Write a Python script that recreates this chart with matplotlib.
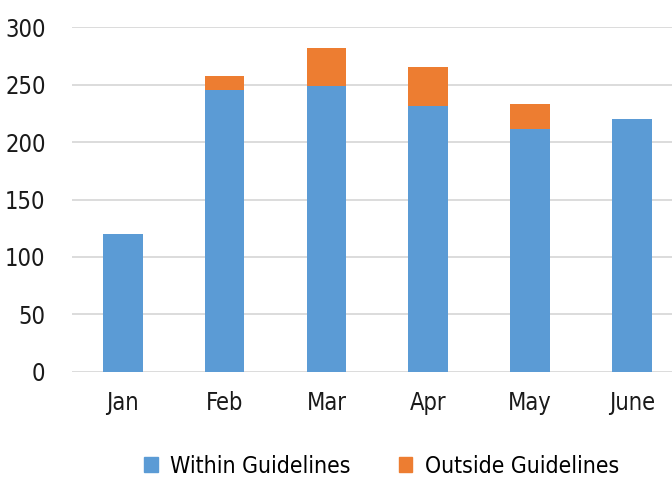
import matplotlib
matplotlib.use('Agg')
import matplotlib.pyplot as plt
from matplotlib.patches import Patch

months = ['Jan', 'Feb', 'Mar', 'Apr', 'May', 'June']
within = [120, 245, 249, 231, 211, 220]
outside = [0, 12, 33, 34, 22, 0]

plt.rcParams['font.family'] = ['DejaVu Sans']
plt.rcParams['font.stretch'] = 'condensed'

blue = '#5B9BD5'
orange = '#ED7D31'

fig = plt.figure(figsize=(6.72, 4.79), dpi=100)
ax = fig.add_axes([0.107, 0.2234, 0.909, 0.7202])

x = range(len(months))
ax.bar(x, within, width=0.39, color=blue, zorder=3)
ax.bar(x, outside, width=0.39, bottom=within, color=orange, zorder=3)

ax.set_xlim(-0.5, len(months) - 0.5)
ax.set_ylim(0, 300)
ax.set_yticks(range(0, 301, 50))
ax.set_xticks(list(x))
ax.set_xticklabels(months)
ax.grid(axis='y', color='#D9D9D9', linewidth=1.3, zorder=0)
for s in ax.spines.values():
    s.set_visible(False)
ax.tick_params(length=0, labelsize=17, colors='#1a1a1a')
ax.tick_params(axis='x', pad=14)
ax.tick_params(axis='y', pad=19)

handles = [Patch(color=blue, label='Within Guidelines'),
           Patch(color=orange, label='Outside Guidelines')]
fig.legend(handles=handles, loc='center', bbox_to_anchor=(0.568, 0.027),
           ncol=2, frameon=False, fontsize=16.5, handlelength=0.58,
           handleheight=0.58, handletextpad=0.55, columnspacing=2.1)

fig.savefig('out.png', dpi=100)
